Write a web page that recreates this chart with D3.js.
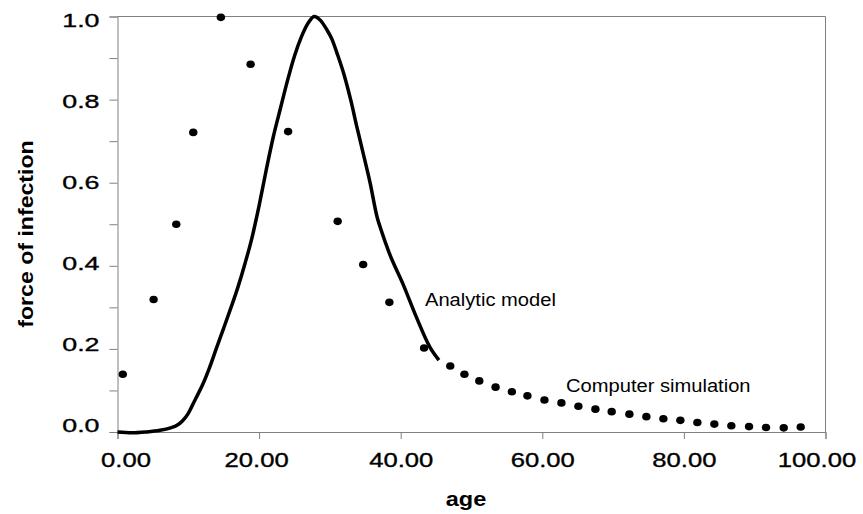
<!DOCTYPE html>
<html>
<head>
<meta charset="utf-8">
<script src="https://cdn.jsdelivr.net/npm/d3@7"></script>
<style>
  body { margin: 0; background: #fff; }
  text { font-family: "Liberation Sans", Arial, sans-serif; fill: #000; }
</style>
</head>
<body>
<div id="chart"></div>
<script>
// analytic model curve (age, force of infection)
var modelAge = [0, 2, 4, 6, 7.5, 8.4, 9.2, 10, 11, 12, 13, 14, 15, 16, 17, 18, 19, 20, 21, 22, 23, 24, 25, 26, 27, 27.8,
    28.7, 29.5, 30.3, 31, 32, 33, 33.8, 34.6, 35.7, 36.7, 37.2, 38.4, 40.3, 42.2, 44.1, 45.4];
var modelVal = [0, -0.002, 0, 0.004, 0.01, 0.016, 0.027, 0.045, 0.079, 0.113, 0.155, 0.203, 0.25, 0.298, 0.348, 0.405, 0.468, 0.545, 0.63, 0.71, 0.778, 0.845, 0.905, 0.952, 0.986, 1.0,
    0.99, 0.97, 0.945, 0.912, 0.86, 0.795, 0.735, 0.678, 0.598, 0.515, 0.488, 0.43, 0.357, 0.277, 0.205, 0.173];

// computer simulation points
var simAge = [0.75, 5.1, 8.3, 10.7, 14.6, 18.8, 24.1, 31.1, 34.7, 38.4, 43.3, 47.0, 49.0, 51.1, 53.4, 55.7, 57.9, 60.3,
    62.7, 65.1, 67.5, 69.8, 72.3, 74.7, 77.1, 79.5, 81.9, 84.3, 86.7, 89.2, 91.6, 94.1, 96.5];
var simVal = [0.139, 0.319, 0.500, 0.721, 0.998, 0.885, 0.723, 0.507, 0.403, 0.312, 0.202, 0.159, 0.139, 0.123, 0.108, 0.097, 0.087, 0.077,
    0.070, 0.062, 0.055, 0.049, 0.043, 0.037, 0.032, 0.028, 0.023, 0.019, 0.015, 0.013, 0.011, 0.010, 0.012];

var xTicks = [0, 20, 40, 60, 80, 100];
var yTicks = [0, 0.1, 0.2, 0.3, 0.4, 0.5, 0.6, 0.7, 0.8, 0.9, 1.0];

var width = 863, height = 514;
var plotLeft = 117.5, plotRight = 825.5, plotTop = 16.5, plotBottom = 432;

var x = d3.scaleLinear().domain([0, 100]).range([plotLeft, plotRight]);
var y = d3.scaleLinear().domain([0, 1]).range([plotBottom, plotTop]);

var svg = d3.select("#chart").append("svg")
    .attr("width", width)
    .attr("height", height);

// stretch text horizontally like the original
function stretch(sel, k) {
    sel.each(function() {
        this.setAttribute("textLength", this.getComputedTextLength() * k);
        this.setAttribute("lengthAdjust", "spacingAndGlyphs");
    });
}

// frame (top and right)
svg.append("path")
    .attr("d", "M" + plotLeft + "," + plotTop + "H" + plotRight + "V" + plotBottom)
    .attr("fill", "none")
    .attr("stroke", "#808080")
    .attr("stroke-width", 1);

// x axis
var gx = svg.append("g")
    .attr("transform", "translate(0," + plotBottom + ")")
    .call(d3.axisBottom(x).tickValues(xTicks).tickSize(7).tickPadding(14).tickFormat(d3.format(".2f")));
gx.select(".domain").attr("stroke", "#808080");
gx.selectAll(".tick line").attr("stroke", "#808080");
gx.selectAll(".tick text")
    .style("font-size", "20px")
    .style("stroke", "#000").style("stroke-width", 0.35)
    .attr("dy", "0.71em")
    .attr("dx", function(d, i) { return i === 0 ? 8 : (i === xTicks.length - 1 ? -9 : (i === 1 ? -3 : 0)); })
    .call(stretch, 1.28);

// y axis
var gy = svg.append("g")
    .attr("transform", "translate(" + plotLeft + ",0)")
    .call(d3.axisLeft(y).tickValues(yTicks).tickSize(8).tickPadding(10)
        .tickFormat(function(d) { return Math.round(d * 10) % 2 === 0 ? d3.format(".1f")(d) : ""; }));
gy.select(".domain").attr("stroke", "#808080");
gy.selectAll(".tick line").attr("stroke", "#808080");
gy.selectAll(".tick text")
    .style("font-size", "18.5px")
    .style("stroke", "#000").style("stroke-width", 0.35)
    .attr("y", function(d) { return -6 + 10 * d; })
    .call(stretch, 1.45);

// axis titles
svg.append("text")
    .attr("x", 466).attr("y", 506)
    .attr("text-anchor", "middle")
    .style("font-size", "21px").style("font-weight", "bold")
    .text("age")
    .call(stretch, 1.12);

svg.append("text")
    .attr("transform", "translate(33,234) rotate(-90)")
    .attr("text-anchor", "middle")
    .style("font-size", "21px").style("font-weight", "bold")
    .text("force of infection")
    .call(stretch, 1.1);

// analytic model line
var line = d3.line()
    .x(function(d, i) { return x(modelAge[i]); })
    .y(function(d) { return y(d); })
    .curve(d3.curveMonotoneX);

svg.append("path")
    .datum(modelVal)
    .attr("d", line)
    .attr("fill", "none")
    .attr("stroke", "#000")
    .attr("stroke-width", 3.5)
    .attr("stroke-linejoin", "round");

// simulation dots
svg.selectAll(".sim")
    .data(simVal)
    .enter().append("ellipse")
    .attr("class", "sim")
    .attr("cx", function(d, i) { return x(simAge[i]); })
    .attr("cy", function(d) { return y(d); })
    .attr("rx", 4.2)
    .attr("ry", 3.8)
    .attr("fill", "#000");

// series labels
svg.append("text")
    .attr("x", 425).attr("y", 306)
    .style("font-size", "17.5px")
    .text("Analytic model")
    .call(stretch, 1.15);

svg.append("text")
    .attr("x", 566).attr("y", 392)
    .style("font-size", "17.5px")
    .text("Computer simulation")
    .call(stretch, 1.15);
</script>
</body>
</html>
